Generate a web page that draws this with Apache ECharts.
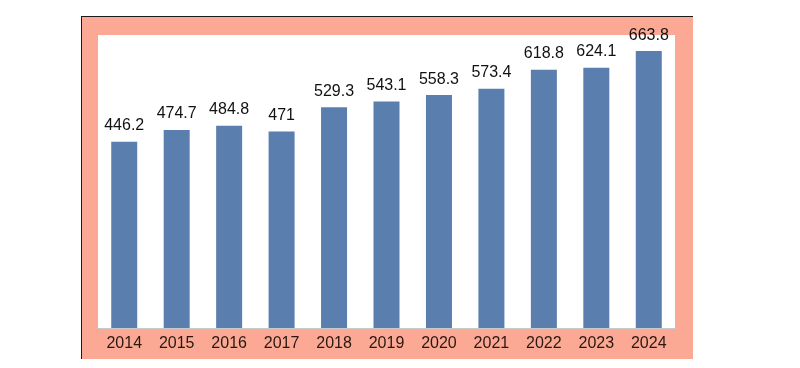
<!DOCTYPE html>
<html><head><meta charset="utf-8">
<script src="https://cdn.jsdelivr.net/npm/echarts@6/dist/echarts.min.js"></script>
<style>html,body{margin:0;padding:0;background:#fff;}#c{width:800px;height:368px;}</style>
</head><body><div id="c"></div>
<script>
const years = ['2014','2015','2016','2017','2018','2019','2020','2021','2022','2023','2024'];
const values = [446.2, 474.7, 484.8, 471, 529.3, 543.1, 558.3, 573.4, 618.8, 624.1, 663.8];

const chart = echarts.init(document.getElementById('c'));
chart.setOption({
  backgroundColor: '#ffffff',
  animation: false,
  graphic: [
    {type:'rect', z:-10, shape:{x:81, y:16, width:612, height:343}, style:{fill:'#FBA994'}},
    {type:'rect', z:-9, shape:{x:98, y:35, width:577, height:293}, style:{fill:'#ffffff'}},
    {type:'line', z:-8, shape:{x1:81, y1:16.5, x2:693, y2:16.5}, style:{stroke:'#1a1a1a', lineWidth:1}},
    {type:'line', z:-8, shape:{x1:81.5, y1:16, x2:81.5, y2:359}, style:{stroke:'#1a1a1a', lineWidth:1}}
  ],
  grid: {left:98, right:125, top:36, bottom:40, containLabel:false},
  xAxis: {
    type:'category', data: years,
    axisLine:{show:true, lineStyle:{color:'#c8c8c8', width:1}},
    axisTick:{show:false},
    axisLabel:{color:'#2a1810', fontSize:16, fontFamily:'Liberation Sans, Arial, sans-serif', margin:8}
  },
  yAxis: {
    type:'value', min:0, max:700,
    axisLine:{show:false}, axisTick:{show:false}, axisLabel:{show:false}, splitLine:{show:false}
  },
  series: [{
    type:'bar', data: values, barWidth:26,
    itemStyle:{color:'#5A7FAE'},
    label:{show:true, position:'top', distance:8, color:'#111', fontSize:16, fontFamily:'Liberation Sans, Arial, sans-serif'}
  }]
});
</script></body></html>
